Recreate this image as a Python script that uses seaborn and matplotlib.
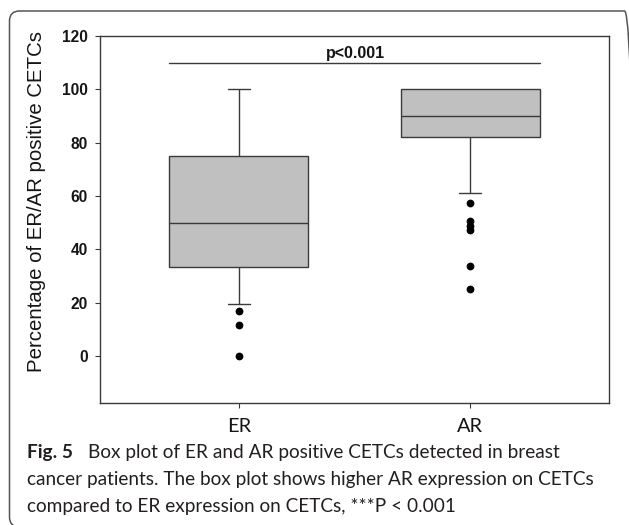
import numpy as np
import pandas as pd
import matplotlib
matplotlib.use("Agg")
import matplotlib.pyplot as plt
import matplotlib.patches as mpatches
import matplotlib.transforms as mtransforms
import seaborn as sns

# ---------------- data ----------------
groups = ["ER", "AR"]
# five-number box summaries: lower whisker, Q1, median, Q3, upper whisker
er_box = [19.3, 33.5, 50.0, 75.0, 100.0]
ar_box = [61.0, 82.2, 89.8, 100.0, 100.0]
# points beyond the whiskers
er_outliers = [17.0, 11.4, 0.0]
ar_outliers = [57.3, 50.5, 48.8, 47.3, 33.6, 25.2]
y_ticks = [0, 20, 40, 60, 80, 100, 120]
sig_label = "p<0.001"
sig_level = 110
y_label = "Percentage of ER/AR positive CETCs"
caption_bold = "Fig. 5"
caption_lines = [
    "Box plot of ER and AR positive CETCs detected in breast",
    "cancer patients. The box plot shows higher AR expression on CETCs",
    "compared to ER expression on CETCs, ***P < 0.001",
]

# ---------------- style ----------------
sns.set_theme(style="ticks")
plt.rcParams["font.family"] = ["Liberation Sans", "DejaVu Sans"]
LINE = "#3a3a3a"
BOX_FILL = "#c0c0c0"
TEXT = "#151515"

W, H = 629, 525
fig = plt.figure(figsize=(W / 100, H / 100), dpi=100)
fig.patch.set_facecolor("white")
ax = fig.add_axes([100 / W, 1 - 403 / H, 509 / W, 367 / H])

box_df = pd.DataFrame({
    "group": ["ER"] * len(er_box) + ["AR"] * len(ar_box),
    "value": er_box + ar_box,
})
out_df = pd.DataFrame({
    "group": ["ER"] * len(er_outliers) + ["AR"] * len(ar_outliers),
    "value": er_outliers + ar_outliers,
})

box_width = 0.6
sns.boxplot(data=box_df, x="group", y="value", order=groups, ax=ax,
            color=BOX_FILL, saturation=1, linecolor=LINE, linewidth=1.0,
            width=box_width, whis=(0, 100), showfliers=False)

# narrow caps like the reference; hide caps of zero-length whiskers
box_edges = {0: (er_box[1], er_box[3]), 1: (ar_box[1], ar_box[3])}
cap_half = 0.047
for ln in ax.lines:
    xd = np.asarray(ln.get_xdata(), dtype=float)
    yd = np.asarray(ln.get_ydata(), dtype=float)
    if len(xd) == 2 and yd[0] == yd[1] and abs(xd[1] - xd[0]) < box_width * 0.9:
        c = xd.mean()
        ln.set_xdata([c - cap_half, c + cap_half])
        edges = box_edges.get(int(round(c)))
        if edges is not None and yd[0] in edges:
            ln.set_visible(False)

sns.stripplot(data=out_df, x="group", y="value", order=groups, ax=ax,
              jitter=False, color="black", size=5.6, linewidth=0, zorder=5)

ax.set_xlim(-0.6, 1.6)
ax.set_ylim(-17.7, 120)
ax.set_yticks(y_ticks)
ax.set_xlabel("")
ax.set_ylabel(y_label, fontsize=14.7, color=TEXT)
ax.yaxis.set_label_coords(-0.1055, 0.5504)

for sp in ax.spines.values():
    sp.set_visible(True)
    sp.set_color(LINE)
    sp.set_linewidth(1.0)

ax.tick_params(axis="y", direction="out", length=3.6, width=0.8, color=LINE,
               pad=5, labelsize=11.2, labelcolor=TEXT, right=False, left=True)
ax.tick_params(axis="x", direction="out", length=3.6, width=0.8, color=LINE,
               pad=7.5, labelsize=14.4, labelcolor=TEXT, top=False, bottom=True)
for lbl in ax.get_yticklabels():
    lbl.set_fontweight("bold")
for lbl in ax.get_xticklabels():
    lbl.set_fontfamily(["Lato", "DejaVu Sans"])

# significance bar
x0 = 0 - box_width / 2
x1 = 1 + box_width / 2
ax.plot([x0, x1], [sig_level, sig_level], color=LINE, lw=1.0)
ax.text(0.505, sig_level + 1.9, sig_label, ha="center", va="baseline",
        fontsize=11.5, fontweight="bold", color=TEXT)

# ---------------- caption ----------------
renderer = fig.canvas.get_renderer()
cap_kw = dict(family=["Lato", "DejaVu Sans"], color="#231f20", va="baseline")
probe = fig.text(27 / W, 0.5, caption_lines[1], fontsize=14, **cap_kw)
w = probe.get_window_extent(renderer).width
cap_size = 14 * 570 / w
probe.remove()

baselines = [458, 485, 512]
fig.text(27 / W, 1 - baselines[0] / H, caption_bold, fontsize=cap_size,
         fontweight="bold", **cap_kw)
fig.text(88 / W, 1 - baselines[0] / H, caption_lines[0], fontsize=cap_size, **cap_kw)
fig.text(27 / W, 1 - baselines[1] / H, caption_lines[1], fontsize=cap_size, **cap_kw)
fig.text(27 / W, 1 - baselines[2] / H, caption_lines[2], fontsize=cap_size, **cap_kw)

# rounded frame around the figure
frame = mpatches.FancyBboxPatch((9.5, -2), 625, 516,
                                boxstyle="round,pad=0,rounding_size=10",
                                transform=mtransforms.IdentityTransform(),
                                fill=False, edgecolor="#555555", lw=1.1)
fig.add_artist(frame)

fig.savefig("out.png", dpi=100)
